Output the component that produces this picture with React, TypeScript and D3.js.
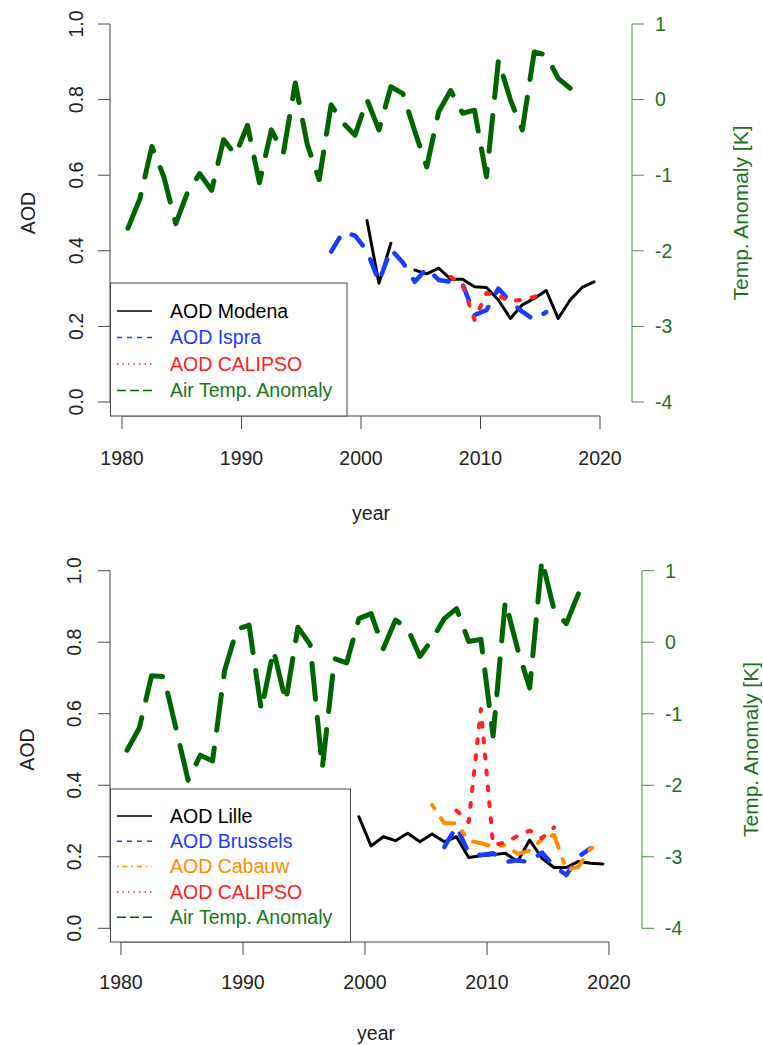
import React from 'react';
import * as d3 from 'd3';

const FONT = '"Liberation Sans", Arial, Helvetica, sans-serif';

// axis ticks
const xTicks = [1980, 1990, 2000, 2010, 2020];
const aodTicks = [0, 0.2, 0.4, 0.6, 0.8, 1.0];
const tempTicks = [-4, -3, -2, -1, 0, 1];

// yearly values (plotted at mid-year)
const tempYears = d3.range(1980, 2018);
const tempModena = [
  -1.70, -1.31, -0.62, -1.02, -1.64, -1.22, -0.98, -1.20, -0.53, -0.73,
  -0.34, -1.10, -0.40, -0.71, 0.22, -0.59, -1.06, -0.07, -0.31, -0.47,
  0.00, -0.40, 0.17, 0.08, -0.42, -0.89, -0.16, 0.12, -0.18, -0.14,
  -1.02, 0.52, 0.00, -0.40, 0.63, 0.59, 0.28, 0.15,
];
const tempLille = [
  -1.51, -1.20, -0.47, -0.48, -1.20, -1.93, -1.58, -1.66, -0.39, 0.18,
  0.24, -0.95, -0.11, -0.83, 0.21, -0.03, -1.76, -0.23, -0.29, 0.33,
  0.40, -0.09, 0.31, 0.19, -0.20, 0.04, 0.33, 0.47, 0.01, 0.04,
  -1.31, 0.57, -0.09, -0.64, 1.15, 0.45, 0.26, 0.68,
];

const modenaYears = d3.range(2000, 2020);
const aodModena = [
  0.48, 0.314, 0.42, null, 0.349, 0.339, 0.354, 0.325, 0.325, 0.305,
  0.303, 0.27, 0.221, 0.257, 0.274, 0.295, 0.221, 0.27, 0.303, 0.318,
];
const ispraYears = d3.range(1997, 2016);
const aodIspra = [
  0.398, 0.45, 0.44, 0.40, 0.318, 0.404, 0.369, 0.318, 0.354, 0.323,
  0.318, 0.312, 0.23, 0.243, 0.30, 0.265, 0.239, 0.217, 0.238,
];
const calipsoItYears = d3.range(2007, 2016);
const aodCalipsoIt = [0.331, 0.31, 0.217, 0.288, 0.281, 0.266, 0.271, 0.278, 0.292];

const lilleYears = d3.range(1999, 2020);
const aodLille = [
  0.312, 0.230, 0.256, 0.245, 0.266, 0.242, 0.264, 0.242, 0.256, 0.198,
  0.203, 0.206, 0.21, 0.187, 0.247, 0.196, 0.17, 0.17, 0.187, 0.182, 0.18,
];
const brusselsYears = d3.range(2006, 2019);
const aodBrussels = [0.227, 0.285, 0.211, 0.205, 0.21, 0.186, 0.19, 0.185, 0.212, 0.174, 0.149, 0.20, 0.224];
const cabauwYears = d3.range(2005, 2020);
const aodCabauw = [0.345, 0.294, 0.294, 0.245, 0.238, 0.228, 0.233, 0.208, 0.217, 0.249, 0.261, 0.163, 0.172, 0.224, 0.228];
const calipsoFrYears = d3.range(2007, 2016);
const aodCalipsoFr = [0.329, 0.297, 0.613, 0.233, 0.24, 0.258, 0.273, 0.252, 0.282];

const GREEN = '#006400';

const topSeries = [
  { label: 'AOD Modena', color: '#000000', text: '#000000', width: 3, dash: null, legendDash: null, years: modenaYears, values: aodModena, axis: 'aod' },
  { label: 'AOD Ispra', color: '#1a3cff', text: '#1a3cff', width: 4.5, dash: '16 16', legendDash: '5 5', years: ispraYears, values: aodIspra, axis: 'aod' },
  { label: 'AOD CALIPSO', color: '#ff2020', text: '#ff2020', width: 4, dash: '4 12', legendDash: '1.5 4', years: calipsoItYears, values: aodCalipsoIt, axis: 'aod' },
  { label: 'Air Temp. Anomaly', color: GREEN, text: '#1a751a', width: 5, dash: '36 18', legendDash: '9 4', years: tempYears, values: tempModena, axis: 'temp' },
];

const bottomSeries = [
  { label: 'AOD Lille', color: '#000000', text: '#000000', width: 3, dash: null, legendDash: null, years: lilleYears, values: aodLille, axis: 'aod' },
  { label: 'AOD Brussels', color: '#1a3cff', text: '#1a3cff', width: 4.5, dash: '16 16', legendDash: '5 5', years: brusselsYears, values: aodBrussels, axis: 'aod' },
  { label: 'AOD Cabauw', color: '#ff8c00', text: '#ff8c00', width: 4, dash: '4 12 16 12', legendDash: '1.5 4 5 4', years: cabauwYears, values: aodCabauw, axis: 'aod' },
  { label: 'AOD CALIPSO', color: '#ff2020', text: '#ff2020', width: 4, dash: '4 12', legendDash: '1.5 4', years: calipsoFrYears, values: aodCalipsoFr, axis: 'aod' },
  { label: 'Air Temp. Anomaly', color: GREEN, text: '#1a751a', width: 5, dash: '36 18', legendDash: '9 4', years: tempYears, values: tempLille, axis: 'temp' },
];

const topLayout = {
  x1980: 122, x2020: 600, y0: 402, y1: 24, axisY: 416, leftX: 110, rightX: 632,
  xLabelY: 465, yearY: 520, leftLabelX: 76, aodTitleX: 28, rightLabelX: 655, rightTitleX: 741,
  legend: { x: 110.5, y: 283, w: 236.5, h: 133, row0: 311, step: 26.5 },
};
const bottomLayout = {
  x1980: 121, x2020: 609, y0: 928.3, y1: 570.7, axisY: 942, leftX: 110, rightX: 642,
  xLabelY: 989, yearY: 1040, leftLabelX: 74, aodTitleX: 27, rightLabelX: 665, rightTitleX: 751,
  legend: { x: 110.5, y: 789, w: 240, h: 153, row0: 816, step: 25.3 },
};

function Panel({ L, series }: { L: any; series: any[] }) {
  const x = d3.scaleLinear().domain([1980, 2020]).range([L.x1980, L.x2020]);
  const yA = d3.scaleLinear().domain([0, 1]).range([L.y0, L.y1]);
  const yT = d3.scaleLinear().domain([-4, 1]).range([L.y0, L.y1]);
  const midY = (L.y0 + L.y1) / 2;
  const fs = 19.5;

  const paths = series.map((s) => {
    const ys = s.axis === 'temp' ? yT : yA;
    const pts = s.years.map((yr: number, i: number) => [yr + 0.5, s.values[i]]);
    const gen = d3
      .line<any>()
      .defined((d) => d[1] != null)
      .x((d) => x(d[0]))
      .y((d) => ys(d[1]));
    return gen(pts);
  });

  const lg = L.legend;

  return (
    <g fontFamily={FONT}>
      {/* data lines */}
      {series.map((s, i) => (
        <path
          key={s.label}
          d={paths[i] || ''}
          fill="none"
          stroke={s.color}
          strokeWidth={s.width}
          strokeDasharray={s.dash || undefined}
          strokeLinecap="round"
          strokeLinejoin="round"
        />
      ))}

      {/* left axis */}
      <line x1={L.leftX} x2={L.leftX} y1={yA(0)} y2={yA(1)} stroke="#444" strokeWidth={1} />
      {aodTicks.map((t) => (
        <g key={t}>
          <line x1={L.leftX - 12} x2={L.leftX} y1={yA(t)} y2={yA(t)} stroke="#444" />
          <text
            transform={`translate(${L.leftLabelX},${yA(t)}) rotate(-90)`}
            textAnchor="middle"
            dy="0.35em"
            fontSize={fs}
            fill="#222"
          >
            {t.toFixed(1)}
          </text>
        </g>
      ))}
      <text
        transform={`translate(${L.aodTitleX},${midY}) rotate(-90)`}
        textAnchor="middle"
        dy="0.35em"
        fontSize={fs}
        fill="#222"
      >
        AOD
      </text>

      {/* bottom axis */}
      <line x1={x(1980)} x2={x(2020)} y1={L.axisY} y2={L.axisY} stroke="#444" />
      {xTicks.map((t) => (
        <g key={t}>
          <line x1={x(t)} x2={x(t)} y1={L.axisY} y2={L.axisY + 13} stroke="#444" />
          <text x={x(t)} y={L.xLabelY} textAnchor="middle" fontSize={fs} fill="#222">
            {t}
          </text>
        </g>
      ))}
      <text x={(L.leftX + L.rightX) / 2} y={L.yearY} textAnchor="middle" fontSize={fs} fill="#222">
        year
      </text>

      {/* right axis */}
      <line x1={L.rightX} x2={L.rightX} y1={yT(-4)} y2={yT(1)} stroke="#4a8a4a" />
      {tempTicks.map((t) => (
        <g key={t}>
          <line x1={L.rightX} x2={L.rightX + 12} y1={yT(t)} y2={yT(t)} stroke="#4a8a4a" />
          <text x={L.rightLabelX} y={yT(t)} dy="0.35em" fontSize={fs} fill="#1f6f1f">
            {t}
          </text>
        </g>
      ))}
      <text
        transform={`translate(${L.rightTitleX},${midY}) rotate(-90)`}
        textAnchor="middle"
        dy="0.35em"
        fontSize={21}
        fill="#1f6f1f"
      >
        Temp. Anomaly [K]
      </text>

      {/* legend */}
      <rect x={lg.x} y={lg.y} width={lg.w} height={lg.h} fill="#fff" stroke="#444" strokeWidth={1} />
      {series.map((s, i) => {
        const ry = lg.row0 + i * lg.step;
        return (
          <g key={s.label}>
            <line
              x1={117}
              x2={152}
              y1={ry}
              y2={ry}
              stroke={s.color}
              strokeWidth={1.5}
              strokeDasharray={s.legendDash || undefined}
            />
            <text x={170} y={ry} dy="0.35em" fontSize={fs} fill={s.text}>
              {s.label}
            </text>
          </g>
        );
      })}
    </g>
  );
}

export default function App() {
  return (
    <svg
      width={763}
      height={1045}
      viewBox="0 0 763 1045"
      style={{ position: 'absolute', left: 0, top: 0, background: '#fff' }}
    >
      <rect width={763} height={1045} fill="#fff" />
      <Panel L={topLayout} series={topSeries} />
      <Panel L={bottomLayout} series={bottomSeries} />
    </svg>
  );
}
